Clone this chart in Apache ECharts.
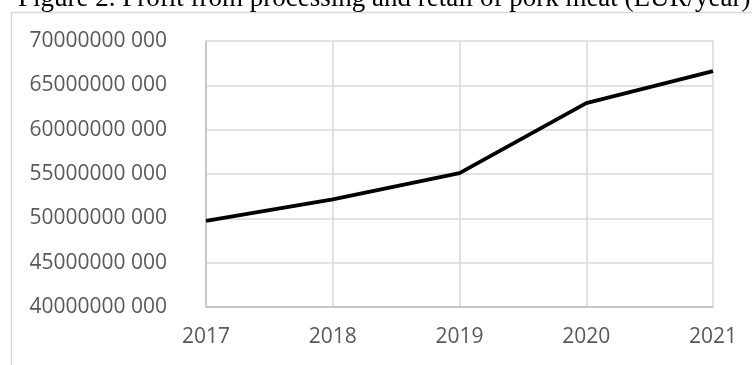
<!DOCTYPE html>
<html>
<head>
<meta charset="utf-8">
<script src="https://cdn.jsdelivr.net/npm/echarts@6/dist/echarts.min.js"></script>
<style>
html,body{margin:0;padding:0;background:#fff;}
#chart{width:752px;height:365px;}
</style>
</head>
<body>
<div id="chart"></div>
<script>
var titleText = 'Figure 2. Profit from processing and retail of pork meat (EUR/year)';
var years = ['2017', '2018', '2019', '2020', '2021'];
var profit = [49700000000, 52150000000, 55100000000, 63000000000, 66600000000];
var yMin = 40000000000, yMax = 70000000000, yStep = 5000000000;

function fmt(v) {
  var s = String(Math.round(v));
  return s.slice(0, s.length - 3) + ' ' + s.slice(-3);
}

var chart = echarts.init(document.getElementById('chart'));
chart.setOption({
  animation: false,
  graphic: [
    {type: 'rect', shape: {x: 11.5, y: 12.5, width: 800, height: 400}, style: {fill: 'none', stroke: '#d9d9d9', lineWidth: 1.5}, z: -1},
    {type: 'text', left: 18, top: -14.5, style: {text: titleText, font: '27px "Liberation Serif", "Times New Roman", serif', fill: '#000'}}
  ],
  grid: {left: 206, right: 39, top: 41, bottom: 58},
  xAxis: {
    type: 'category', data: years, boundaryGap: false,
    axisLine: {lineStyle: {color: '#bfbfbf', width: 1.5}},
    axisTick: {show: false},
    axisLabel: {color: '#595959', fontSize: 21, fontFamily: 'Open Sans', margin: 20},
    splitLine: {show: true, lineStyle: {color: '#d9d9d9', width: 1.5}}
  },
  yAxis: {
    type: 'value', min: yMin, max: yMax, interval: yStep,
    axisLine: {show: true, lineStyle: {color: '#bfbfbf', width: 1.5}},
    axisTick: {show: false},
    axisLabel: {color: '#595959', fontSize: 21, fontFamily: 'Open Sans', margin: 39, formatter: fmt},
    splitLine: {lineStyle: {color: '#d9d9d9', width: 1.5}}
  },
  series: [{
    type: 'line', data: profit, showSymbol: false,
    lineStyle: {color: '#000', width: 3.8}
  }]
});
</script>
</body>
</html>
